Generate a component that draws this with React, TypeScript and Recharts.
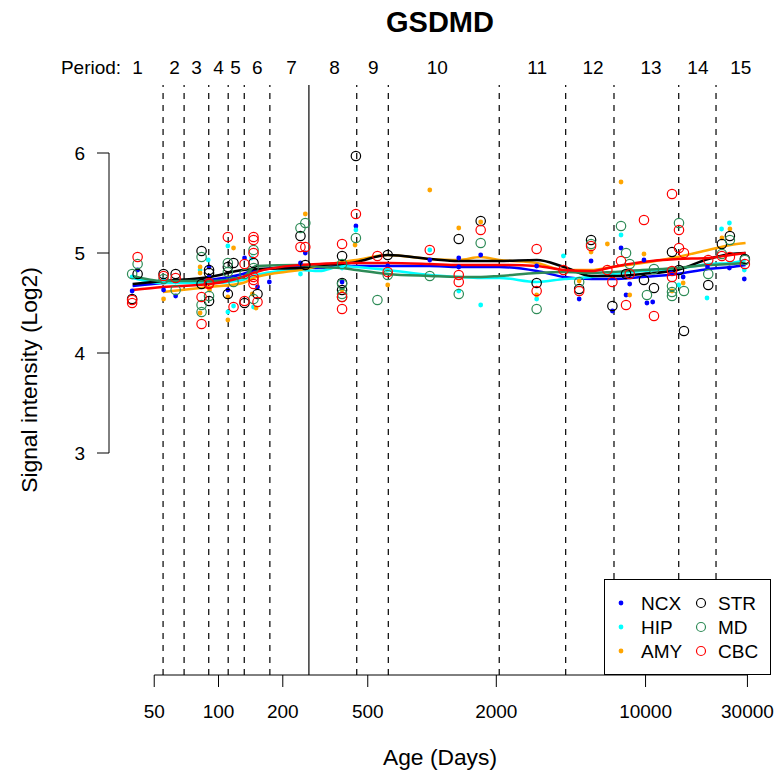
import React from 'react';
import { ComposedChart, Scatter, Line, XAxis, YAxis, ReferenceLine } from 'recharts';

const FONT = '"Liberation Sans", Arial, Helvetica, sans-serif';

const X_DOMAIN: [number, number] = [30.7, 38680];
const Y_DOMAIN: [number, number] = [0.78, 6.68];
const X_TICKS = [50, 100, 200, 500, 2000, 10000, 30000];
const Y_TICKS = [3, 4, 5, 6];

const PERIOD_BOUNDARIES = [55, 69, 90, 111, 132, 174, 444, 624, 2064, 4226, 7115, 14300, 21380];
const BIRTH = 265;
const PERIOD_LABELS = ['1', '2', '3', '4', '5', '6', '7', '8', '9', '10', '11', '12', '13', '14', '15'];
const PERIOD_CENTERS = [41.8, 62.3, 78.9, 100, 120, 152, 220, 349, 531, 1058, 3107, 5680, 10607, 17590, 27950];

const NCX_POINTS: [number, number][] = [
  [39.4, 4.62], [41.8, 4.83], [55.3, 4.63], [63, 4.57], [90.3, 4.86], [90.3, 4.76], [110.6, 4.63],
  [132.4, 4.95], [152.3, 4.66], [173, 4.71], [242, 4.9], [255, 5.0], [379, 4.71], [440, 5.27],
  [620, 4.87], [976, 4.93], [1334, 4.86], [1334, 4.95], [1690, 4.98], [3090, 4.87], [4887, 4.54],
  [5557, 4.92], [6993, 4.42], [7675, 5.05], [8103, 4.58], [8430, 4.69], [9830, 4.93], [10150, 4.5],
  [10800, 4.51], [13200, 4.8], [15000, 4.76], [19500, 4.86], [24700, 4.85], [29000, 4.74],
];
const HIP_POINTS: [number, number][] = [
  [39.4, 4.76], [55.3, 4.73], [82, 4.83], [89.5, 4.93], [110.6, 5.07], [110.6, 4.41], [117.6, 4.47],
  [145.9, 4.46], [143, 4.95], [242, 4.79], [379, 4.85], [440, 5.23], [620, 4.83], [976, 5.03],
  [1334, 4.62], [1690, 4.48], [3090, 4.54], [4125, 4.97], [7675, 5.18], [14300, 4.68], [19400, 4.55],
  [22700, 5.24], [24700, 5.3], [29000, 4.83],
];
const AMY_POINTS: [number, number][] = [
  [55.3, 4.54], [82, 4.86], [82, 4.8], [82, 4.4], [90.8, 4.63], [110.6, 4.33], [110.6, 4.56],
  [117.6, 5.05], [144, 4.59], [150, 4.45], [255, 5.39], [379, 4.63], [436, 5.08], [620, 4.68],
  [976, 5.63], [1334, 5.25], [1690, 5.31], [3090, 4.58], [4887, 4.72], [5557, 5.01], [6624, 5.09],
  [7675, 5.71], [8430, 4.58], [9830, 4.99], [13300, 4.62], [15000, 4.7], [22780, 5.15], [24830, 5.24],
];
const STR_POINTS: [number, number][] = [
  [39.4, 4.54], [41.8, 4.79], [55.3, 4.79], [63, 4.79], [83.3, 5.02], [83.3, 4.69], [90.3, 4.83],
  [90.3, 4.8], [90.3, 4.52], [110.6, 4.86], [110.6, 4.59], [117.6, 4.9], [132.4, 4.5], [145.9, 4.9],
  [152.3, 4.59], [242, 5.17], [255, 4.88], [379, 4.97], [379, 4.7], [379, 4.63], [440, 5.97],
  [620, 4.98], [1334, 5.14], [1690, 5.32], [3090, 4.7], [4887, 4.64], [5557, 5.13], [6993, 4.47],
  [8103, 4.79], [9830, 4.73], [10950, 4.65], [13300, 5.01], [14340, 4.83], [15130, 4.22],
  [19660, 4.68], [22780, 5.09], [24830, 5.17], [29180, 4.94],
];
const MD_POINTS: [number, number][] = [
  [39.4, 4.79], [41.8, 4.89], [55.3, 4.74], [63, 4.63], [83.3, 4.96], [83.3, 4.48], [83.3, 4.41],
  [90.3, 4.57], [110.6, 4.9], [110.6, 4.81], [117.6, 4.71], [132.4, 4.79], [145.9, 5.03], [145.9, 4.85],
  [145.9, 4.54], [242, 5.25], [255, 5.3], [379, 4.89], [379, 4.69], [379, 4.59], [379, 4.56],
  [440, 5.15], [555, 4.53], [620, 4.78], [976, 4.77], [1334, 4.59], [1690, 5.1], [3090, 4.44],
  [4887, 4.71], [5557, 5.09], [7675, 5.27], [8103, 5.0], [8430, 4.89], [10150, 4.58], [10950, 4.84],
  [13300, 4.67], [13300, 4.61], [13300, 4.57], [14340, 5.3], [15130, 4.62], [19660, 4.79],
  [22780, 4.99], [24830, 5.13], [29180, 4.93],
];
const CBC_POINTS: [number, number][] = [
  [39.4, 4.53], [39.4, 4.5], [41.8, 4.96], [55.3, 4.77], [63, 4.75], [83.3, 4.56], [83.3, 4.29],
  [90.3, 4.7], [90.3, 4.69], [110.6, 5.16], [117.6, 4.46], [132.4, 4.89], [132.4, 4.52],
  [145.9, 5.16], [145.9, 5.13], [145.9, 5.0], [145.9, 4.76], [145.9, 4.73], [145.9, 4.69],
  [152.3, 4.51], [242, 5.06], [255, 5.06], [379, 5.09], [379, 4.56], [379, 4.44], [440, 5.39],
  [555, 4.97], [620, 4.81], [976, 5.03], [1334, 4.78], [1334, 4.71], [1690, 5.23], [3090, 5.04],
  [3090, 4.62], [4125, 4.83], [4887, 4.62], [5557, 5.07], [6624, 4.83], [6993, 4.71], [7675, 4.92],
  [8103, 4.48], [8430, 4.79], [9830, 5.33], [10950, 4.37], [13300, 5.59], [13300, 4.82],
  [13300, 4.76], [14340, 5.23], [14340, 5.05], [15130, 5.0], [19660, 4.93], [22780, 4.97],
  [24830, 4.96], [29180, 4.89],
];

const FIT_AGES = [39.6, 54.9, 90.8, 130, 150, 239, 297, 379, 441, 620, 978, 1331, 1694, 2063, 3096, 4154, 5576, 6990, 9653, 14080, 19660, 25010, 29400];
const NCX_FIT = [4.67, 4.7, 4.73, 4.79, 4.83, 4.86, 4.85, 4.87, 4.87, 4.87, 4.87, 4.86, 4.86, 4.86, 4.82, 4.76, 4.74, 4.74, 4.76, 4.79, 4.84, 4.86, 4.88];
const HIP_FIT = [4.75, 4.7, 4.7, 4.73, 4.78, 4.83, 4.82, 4.87, 4.86, 4.83, 4.78, 4.76, 4.75, 4.75, 4.71, 4.74, 4.76, 4.79, 4.82, 4.84, 4.89, 4.9, 4.93];
const AMY_FIT = [null, 4.61, 4.66, 4.7, 4.76, 4.83, 4.87, 4.91, 4.93, 4.98, 4.94, 4.93, 4.96, 4.93, 4.9, 4.83, 4.83, 4.86, 4.9, 4.96, 5.03, 5.08, 5.1];
const STR_FIT = [4.69, 4.72, 4.76, 4.83, 4.84, 4.85, 4.88, 4.89, 4.91, 4.98, 4.94, 4.92, 4.92, 4.92, 4.93, 4.86, 4.77, 4.77, 4.79, 4.83, 4.94, 4.99, 5.0];
const MD_FIT = [4.77, 4.72, 4.72, 4.76, 4.87, 4.88, 4.86, 4.85, 4.83, 4.79, 4.77, 4.76, 4.76, 4.77, 4.8, 4.81, 4.8, 4.81, 4.83, 4.85, 4.88, 4.89, 4.9];
const CBC_FIT = [4.63, 4.66, 4.69, 4.76, 4.81, 4.88, 4.89, 4.9, 4.9, 4.9, 4.89, 4.88, 4.88, 4.88, 4.87, 4.83, 4.82, 4.86, 4.91, 4.94, 4.95, 4.98, 5.0];

const REGIONS = [
  { name: 'NCX', color: '#0000FF', filled: true, points: NCX_POINTS, fit: NCX_FIT },
  { name: 'HIP', color: '#00FFFF', filled: true, points: HIP_POINTS, fit: HIP_FIT },
  { name: 'AMY', color: '#FFA500', filled: true, points: AMY_POINTS, fit: AMY_FIT },
  { name: 'STR', color: '#000000', filled: false, points: STR_POINTS, fit: STR_FIT },
  { name: 'MD', color: '#2E8B57', filled: false, points: MD_POINTS, fit: MD_FIT },
  { name: 'CBC', color: '#FF0000', filled: false, points: CBC_POINTS, fit: CBC_FIT },
];

const toPoints = (arr: [number, number][]) => arr.map(([age, value]) => ({ age, value }));
const toFit = (vals: (number | null)[]) =>
  FIT_AGES.map((age, i) => ({ age, value: vals[i] })).filter((d) => d.value !== null);

const dotShape = (color: string) => (props: any) =>
  <circle cx={props.cx} cy={props.cy} r={2.4} fill={color} />;
const ringShape = (color: string) => (props: any) =>
  <circle cx={props.cx} cy={props.cy} r={4.7} fill="none" stroke={color} strokeWidth={1.2} />;

export default function App() {
  const tickStyle = { fill: '#000', fontSize: 19, fontFamily: FONT };
  return (
    <div style={{ position: 'absolute', left: 0, top: 0, width: 776, height: 775, background: '#fff' }}>
      <ComposedChart width={776} height={775} margin={{ top: 85, right: 5, bottom: 0, left: 0 }}>
        <XAxis
          dataKey="age"
          type="number"
          scale="log"
          domain={X_DOMAIN}
          allowDataOverflow
          ticks={X_TICKS}
          interval={0}
          axisLine={false}
          tickLine={{ stroke: '#000' }}
          tickSize={12}
          tickMargin={18}
          height={100}
          tick={tickStyle}
        />
        <YAxis
          type="number"
          domain={Y_DOMAIN}
          allowDataOverflow
          ticks={Y_TICKS}
          interval={0}
          width={109}
          axisLine={false}
          tickLine={{ stroke: '#000' }}
          tickSize={12}
          tickMargin={12}
          tick={tickStyle}
        />
        {PERIOD_BOUNDARIES.map((b) => (
          <ReferenceLine key={'b' + b} x={b} stroke="#000" strokeWidth={1.2} strokeDasharray="6 6" />
        ))}
        <ReferenceLine x={BIRTH} stroke="#444" strokeWidth={1.6} />
        {PERIOD_LABELS.map((p, i) => (
          <ReferenceLine
            key={'p' + p}
            x={PERIOD_CENTERS[i]}
            stroke="none"
            label={{ value: p, position: 'top', offset: 11, fill: '#000', fontSize: 19, fontFamily: FONT }}
          />
        ))}
        <ReferenceLine
          segment={[{ x: X_DOMAIN[0], y: 3 }, { x: X_DOMAIN[0], y: 6 }]}
          stroke="#000"
          ifOverflow="visible"
        />
        <ReferenceLine
          segment={[{ x: 50, y: Y_DOMAIN[0] }, { x: 30000, y: Y_DOMAIN[0] }]}
          stroke="#000"
          ifOverflow="visible"
        />
        {REGIONS.map((r) => (
          <Scatter
            key={'s' + r.name}
            name={r.name}
            data={toPoints(r.points)}
            dataKey="value"
            isAnimationActive={false}
            shape={r.filled ? dotShape(r.color) : ringShape(r.color)}
          />
        ))}
        {REGIONS.map((r) => (
          <Line
            key={'l' + r.name}
            data={toFit(r.fit)}
            dataKey="value"
            type="monotone"
            stroke={r.color}
            strokeWidth={2.5}
            dot={false}
            activeDot={false}
            isAnimationActive={false}
          />
        ))}
      </ComposedChart>
      <svg
        width={776}
        height={775}
        style={{ position: 'absolute', left: 0, top: 0, pointerEvents: 'none' }}
        fontFamily={FONT}
      >
        <text x={440} y={32} textAnchor="middle" fontSize={29} fontWeight="bold" fill="#000">GSDMD</text>
        <text x={91} y={74} textAnchor="middle" fontSize={19} fill="#000">Period:</text>
        <text x={440} y={765} textAnchor="middle" fontSize={22.8} fill="#000">Age (Days)</text>
        <text x={37} y={380} textAnchor="middle" fontSize={22.8} fill="#000" transform="rotate(-90 37 380)">
          Signal intensity (Log2)
        </text>
        <rect x={604.5} y={579.5} width={166} height={95} fill="#fff" stroke="#000" strokeWidth={1} />
        {REGIONS.map((r, i) => {
          const col = i < 3 ? 0 : 1;
          const row = i % 3;
          const cy = 603 + row * 24;
          const sx = col === 0 ? 621 : 701;
          const tx = col === 0 ? 641 : 718;
          return (
            <g key={'lg' + r.name}>
              {r.filled ? (
                <circle cx={sx} cy={cy} r={2.4} fill={r.color} />
              ) : (
                <circle cx={sx} cy={cy} r={4.5} fill="none" stroke={r.color} strokeWidth={1.2} />
              )}
              <text x={tx} y={cy + 7} fontSize={19} fill="#000">{r.name}</text>
            </g>
          );
        })}
      </svg>
    </div>
  );
}
